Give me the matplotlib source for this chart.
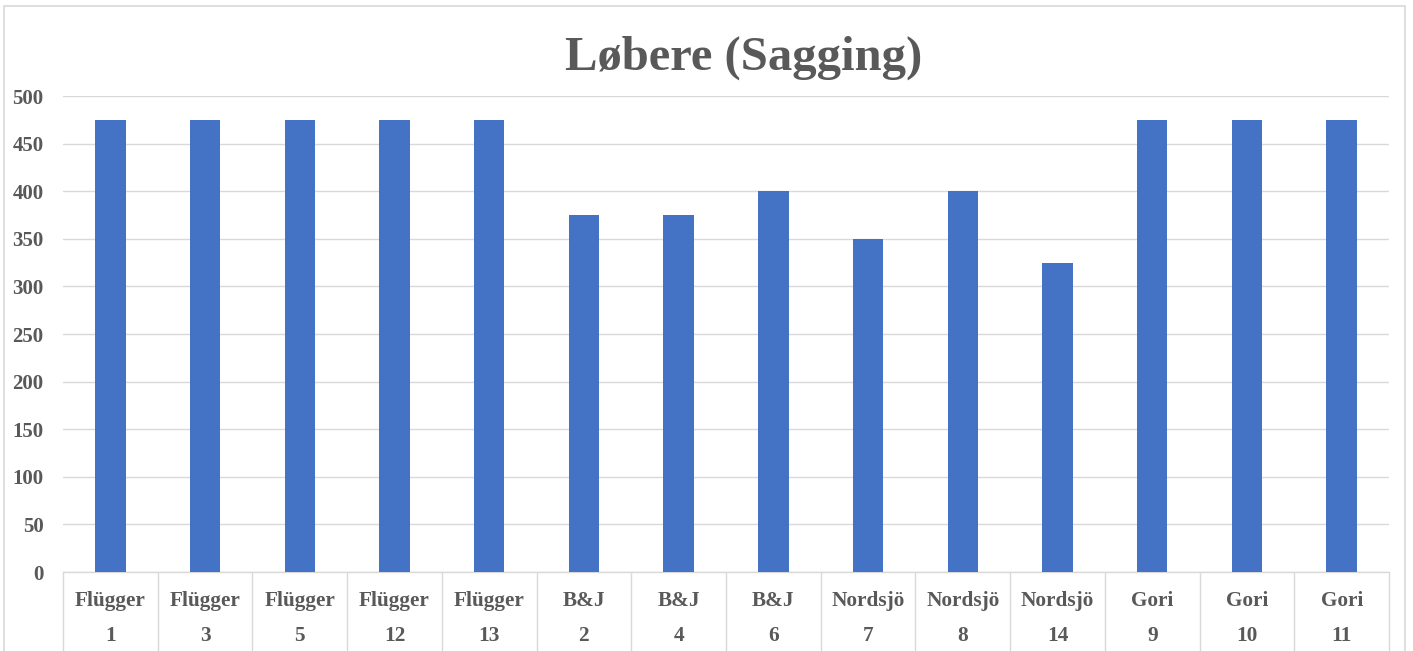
import matplotlib.pyplot as plt
from matplotlib.patches import Rectangle
from matplotlib.transforms import blended_transform_factory

brands = ['Flügger', 'Flügger', 'Flügger', 'Flügger', 'Flügger',
          'B&J', 'B&J', 'B&J', 'Nordsjö', 'Nordsjö', 'Nordsjö',
          'Gori', 'Gori', 'Gori']
numbers = ['1', '3', '5', '12', '13', '2', '4', '6', '7', '8', '14', '9', '10', '11']
values = [475, 475, 475, 475, 475, 375, 375, 400, 350, 400, 325, 475, 475, 475]

grey = '#595959'
line = '#d9d9d9'
plt.rcParams['font.family'] = ['Liberation Serif', 'DejaVu Serif']
plt.rcParams['font.weight'] = 'bold'

fig = plt.figure(figsize=(14.13, 6.51), dpi=100)
ax = fig.add_axes([63 / 1413, 79 / 651, 1326 / 1413, 476 / 651])

# outer chart frame
fig.add_artist(Rectangle((4 / 1413, -0.05), 1401 / 1413, 1.05 - 6 / 651,
                         transform=fig.transFigure, fill=False,
                         edgecolor=line, lw=1.2))

x = list(range(len(values)))
ax.bar(x, values, width=0.32, color='#4472c4', zorder=3)

ax.set_xlim(-0.5, len(values) - 0.5)
ax.set_ylim(0, 500)
ax.set_yticks(range(0, 501, 50))
ax.tick_params(axis='y', length=0, pad=14, labelsize=15, labelcolor=grey)
ax.set_xticks([])
ax.grid(axis='y', color=line, lw=1, zorder=0)
for s in ['top', 'right', 'left']:
    ax.spines[s].set_visible(False)
ax.spines['bottom'].set_color(line)
ax.spines['bottom'].set_linewidth(1)

# two-level category labels with separators
tr = blended_transform_factory(ax.transData, ax.transAxes)
for i in x:
    ax.text(i, -29 / 476, brands[i], transform=tr, ha='center', va='center',
            fontsize=15.3, color=grey, fontweight='bold')
    ax.text(i, -64 / 476, numbers[i], transform=tr, ha='center', va='center',
            fontsize=15.3, color=grey, fontweight='bold')
ax.vlines([i - 0.5 for i in range(len(values) + 1)], -0.2, 0, transform=tr,
          colors=line, lw=1, clip_on=False)

fig.text(744 / 1413, 1 - 58 / 651, 'Løbere (Sagging)', ha='center', va='center',
         fontsize=35, color=grey, fontweight='bold')

fig.savefig('out.png', dpi=100)
